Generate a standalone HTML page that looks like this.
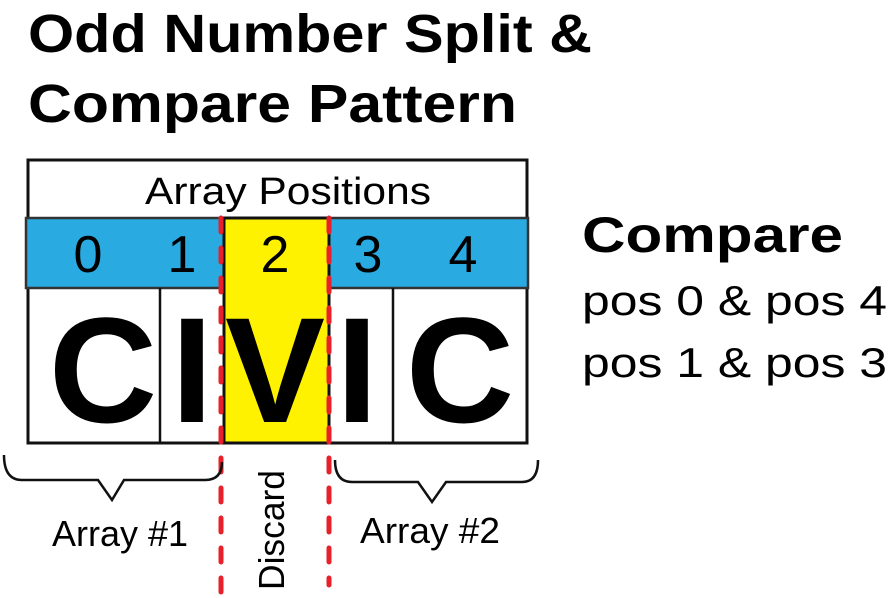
<!DOCTYPE html>
<html><head><meta charset="utf-8"><style>
html,body{margin:0;padding:0;background:#fff;width:890px;height:598px;overflow:hidden}
svg{display:block;font-family:"Liberation Sans",Arial,sans-serif}
</style></head><body>
<svg width="890" height="598" viewBox="0 0 890 598">
<g font-weight="bold" font-size="54">
<text x="28" y="52" textLength="564" lengthAdjust="spacingAndGlyphs">Odd Number Split &amp;</text>
<text x="28" y="122" textLength="489" lengthAdjust="spacingAndGlyphs">Compare Pattern</text>
</g>
<rect x="28" y="160" width="499" height="283" fill="#fff" stroke="#111" stroke-width="3"/>
<text x="145" y="204" font-size="38" textLength="286" lengthAdjust="spacingAndGlyphs">Array Positions</text>
<rect x="26" y="218" width="502" height="70" fill="#29aae1" stroke="#333" stroke-width="2.5"/>
<line x1="160" y1="288" x2="160" y2="443" stroke="#111" stroke-width="2.5"/>
<line x1="393" y1="288" x2="393" y2="443" stroke="#111" stroke-width="2.5"/>
<rect x="224" y="218" width="105" height="225" fill="#fff200" stroke="#111" stroke-width="3"/>
<g font-size="52" text-anchor="middle">
<text x="88" y="272">0</text><text x="182" y="272">1</text><text x="275" y="272">2</text><text x="368" y="272">3</text><text x="463" y="272">4</text>
</g>
<g font-size="150" font-weight="bold" text-anchor="middle">
<text x="103" y="422">C</text><text x="192" y="422">I</text><text x="275" y="422">V</text><text x="357" y="422">I</text><text x="460" y="422">C</text>
</g>
<g stroke="#e8202a" stroke-width="5" stroke-linecap="round" stroke-dasharray="14 16">
<line x1="221" y1="218" x2="221" y2="598"/>
<line x1="329" y1="218" x2="329" y2="585"/>
</g>
<g fill="none" stroke="#111" stroke-width="2.5">
<path d="M4 455 Q4 480 22 480 L98 480 L112 500 L124 480 L205 480 Q222 480 222 462"/>
<path d="M335 460 Q335 482 352 482 L418 482 L432 502 L446 482 L522 482 Q538 482 538 460"/>
</g>
<text x="52" y="546" font-size="36" textLength="136" lengthAdjust="spacingAndGlyphs">Array #1</text>
<text x="360" y="543" font-size="36" textLength="140" lengthAdjust="spacingAndGlyphs">Array #2</text>
<text transform="translate(284,590) rotate(-90)" font-size="36" textLength="120" lengthAdjust="spacingAndGlyphs">Discard</text>
<text x="582" y="252" font-size="50" font-weight="bold" textLength="261" lengthAdjust="spacingAndGlyphs">Compare</text>
<text x="582" y="315" font-size="42" textLength="305" lengthAdjust="spacingAndGlyphs">pos 0 &amp; pos 4</text>
<text x="582" y="377" font-size="42" textLength="305" lengthAdjust="spacingAndGlyphs">pos 1 &amp; pos 3</text>
</svg>
</body></html>
